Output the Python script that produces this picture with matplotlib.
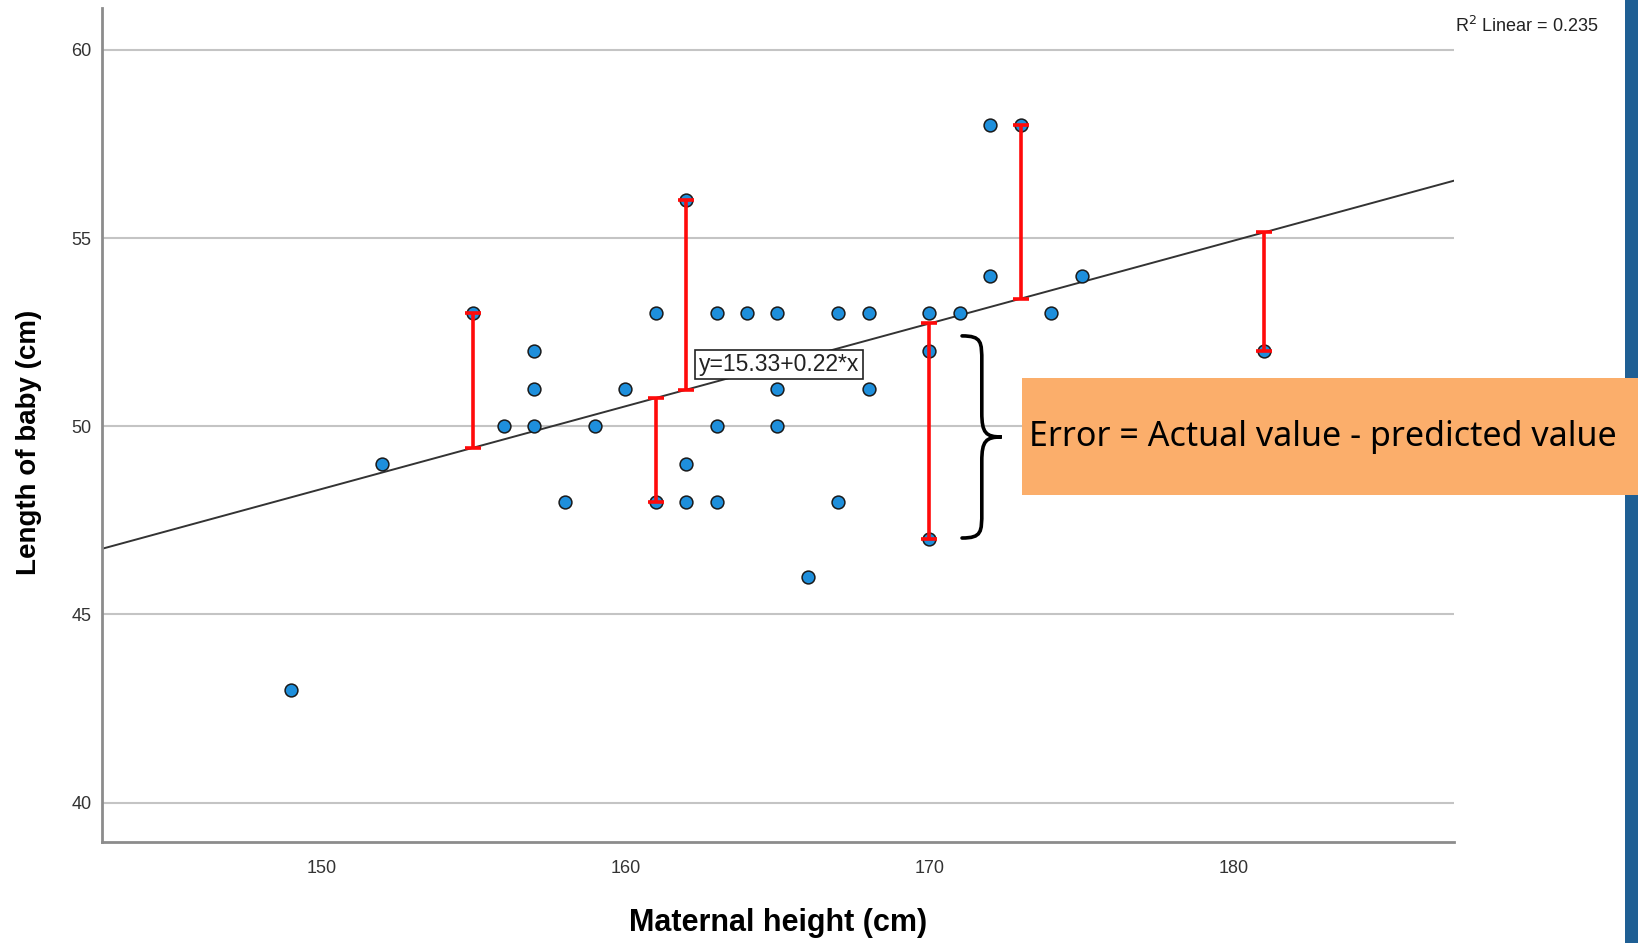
import numpy as np
import matplotlib
matplotlib.use("Agg")
import matplotlib.pyplot as plt
from matplotlib.path import Path
from matplotlib.patches import PathPatch, Rectangle

# Maternal height vs. baby length
heights = [149, 152, 155, 156, 157, 157, 157, 158, 159, 160, 161, 161, 162, 162, 162,
           163, 163, 163, 164, 165, 165, 165, 166, 167, 167, 168, 168, 170, 170, 170,
           171, 172, 172, 173, 174, 175, 181]
lengths = [43, 49, 53, 50, 52, 51, 50, 48, 50, 51, 53, 48, 56, 49, 48,
           53, 50, 48, 53, 53, 51, 50, 46, 53, 48, 53, 51, 53, 52, 47,
           53, 58, 54, 58, 53, 54, 52]

# fitted line
intercept = 15.33
slope = 0.22
r2 = 0.235

# points with residuals marked
err_x = [155, 161, 162, 170, 173, 181]
err_y = [53, 48, 56, 47, 58, 52]

x_ticks = [150, 160, 170, 180]
y_ticks = [40, 45, 50, 55, 60]

fig = plt.figure(figsize=(16.38, 9.43), dpi=100)
fig.patch.set_facecolor("white")
ax = fig.add_axes([0.0625, 0.107, 0.8252, 0.884])
ax.set_xlim(142.8, 187.25)
ax.set_ylim(38.95, 61.1)

# grid
for yv in y_ticks:
    ax.axhline(yv, color="#c4c4c4", lw=1.5, zorder=0)

# regression line across the whole axis
xs = np.array(ax.get_xlim())
ax.plot(xs, intercept + slope * xs, color="#333333", lw=1.4, zorder=2)

ax.scatter(heights, lengths, s=85, color="#1e8fdc", edgecolors="#1a1a1a",
           linewidths=1.1, zorder=3)

# residual bars: actual -> predicted
err_x = np.array(err_x)
err_y = np.array(err_y)
pred = intercept + slope * err_x
lower = np.clip(err_y - pred, 0, None)
upper = np.clip(pred - err_y, 0, None)
ax.errorbar(err_x, err_y, yerr=[lower, upper], fmt="none", ecolor="#ff0a0a",
            elinewidth=2.6, capsize=5.5, capthick=2.6, zorder=4)

# curly brace next to the residual at 170
bx = 170 + 1.07
btop = pred[3] - 0.33
bbot = err_y[3] + 0.03
bw = 1.3
h = btop - bbot
ym = (btop + bbot) / 2
verts = [
    (bx, btop),
    (bx + 0.5 * bw, btop), (bx + 0.5 * bw, btop - 0.03 * h), (bx + 0.5 * bw, btop - 0.13 * h),
    (bx + 0.5 * bw, ym + 0.12 * h),
    (bx + 0.5 * bw, ym + 0.02 * h), (bx + 0.6 * bw, ym), (bx + bw, ym),
    (bx + 0.6 * bw, ym), (bx + 0.5 * bw, ym - 0.02 * h), (bx + 0.5 * bw, ym - 0.12 * h),
    (bx + 0.5 * bw, bbot + 0.13 * h),
    (bx + 0.5 * bw, bbot + 0.03 * h), (bx + 0.5 * bw, bbot), (bx, bbot),
]
codes = [Path.MOVETO,
         Path.CURVE4, Path.CURVE4, Path.CURVE4,
         Path.LINETO,
         Path.CURVE4, Path.CURVE4, Path.CURVE4,
         Path.CURVE4, Path.CURVE4, Path.CURVE4,
         Path.LINETO,
         Path.CURVE4, Path.CURVE4, Path.CURVE4]
ax.add_patch(PathPatch(Path(verts, codes), facecolor="none", edgecolor="black",
                       lw=2.6, zorder=5, capstyle="round"))

# equation label
ax.text(165.05, 51.64, f"y={intercept:.2f}+{slope:.2f}*x", ha="center", va="center",
        family="Liberation Sans", fontsize=16.5, color="#222222", zorder=6,
        bbox=dict(boxstyle="square,pad=0.15", facecolor="white", edgecolor="#222222", lw=1.2))

# spines and ticks
for side in ["top", "right"]:
    ax.spines[side].set_visible(False)
for side in ["left", "bottom"]:
    ax.spines[side].set_color("#8c8c8c")
    ax.spines[side].set_linewidth(2.0)
ax.set_xticks(x_ticks)
ax.set_yticks(y_ticks)
ax.tick_params(length=0, pad=13, labelsize=13, labelcolor="#333333")
for lbl in ax.get_xticklabels() + ax.get_yticklabels():
    lbl.set_family("Liberation Sans")
ax.tick_params(axis="y", pad=8)

ax.set_xlabel("Maternal height (cm)", family=["Liberation Sans Narrow", "Liberation Sans"],
              fontweight="bold", fontsize=22, labelpad=22)
ax.set_ylabel("Length of baby (cm)", family=["Liberation Sans Narrow", "Liberation Sans"],
              fontweight="bold", fontsize=20)
ax.yaxis.set_label_coords(-0.045, 0.479)

fig.text(0.888, 0.973, f"R$^2$ Linear = {r2}", family="Liberation Sans", fontsize=13,
         color="#222222", ha="left", va="center")

# side strip and callout
fig.patches.append(Rectangle((0.992, 0), 0.008, 1, transform=fig.transFigure,
                             facecolor="#1f5f94", edgecolor="none", zorder=1))
fig.patches.append(Rectangle((0.6237, 0.4751), 0.3763, 0.1241, transform=fig.transFigure,
                             facecolor="#fbae6b", edgecolor="none", zorder=2))
fig.text(0.6282, 0.537, "Error = Actual value - predicted value", family="Noto Sans",
         fontsize=24.5, color="black", ha="left", va="center", zorder=3)

fig.savefig("out.png", dpi=100)
